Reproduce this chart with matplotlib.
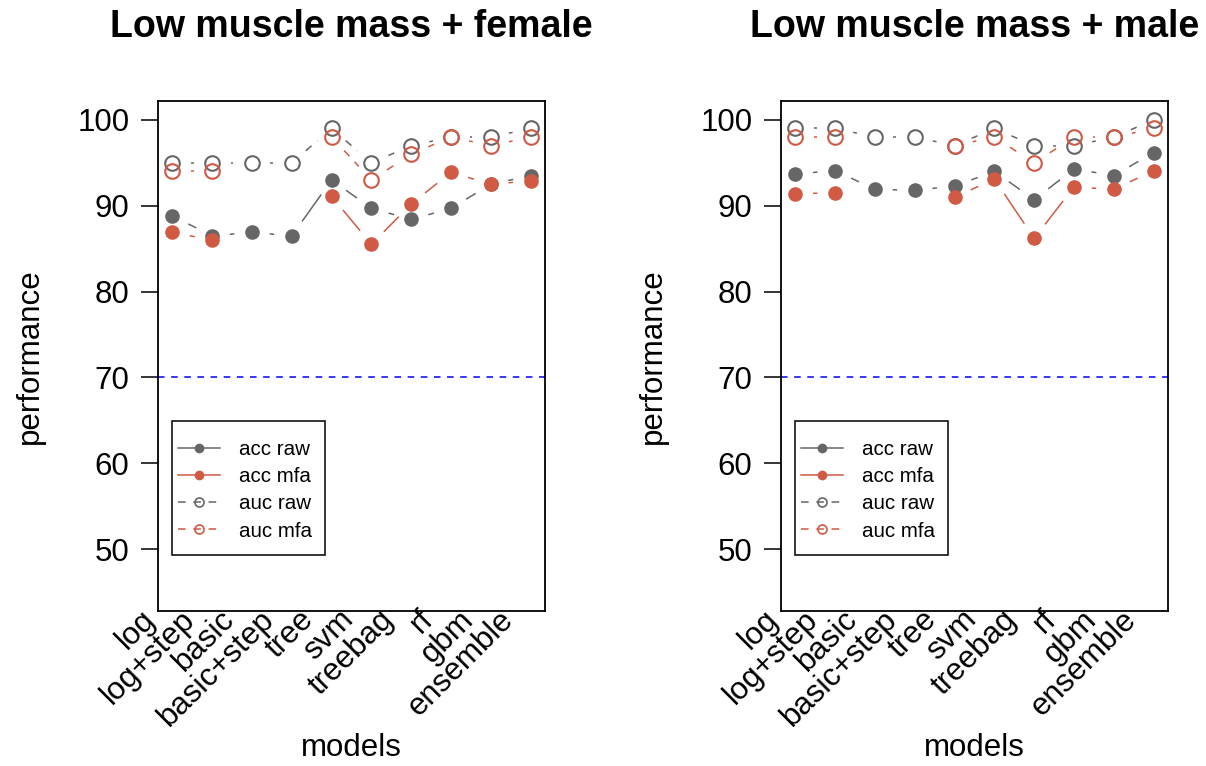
import numpy as np
import matplotlib
matplotlib.use("Agg")
import matplotlib.pyplot as plt
from matplotlib.lines import Line2D
from matplotlib.patches import Rectangle

plt.rcParams['font.family'] = ['Liberation Sans', 'DejaVu Sans']

models = ['log', 'log+step', 'basic', 'basic+step', 'tree', 'svm',
          'treebag', 'rf', 'gbm', 'ensemble']
nan = np.nan

# female
f_acc_raw = [88.8, 86.5, 86.9, 86.5, 93.0, 89.7, 88.4, 89.7, 92.5, 93.5]
f_acc_mfa = [86.9, 86.0, nan, nan, 91.1, 85.5, 90.2, 93.9, 92.5, 92.9]
f_auc_raw = [95, 95, 95, 95, 99, 95, 97, 98, 98, 99]
f_auc_mfa = [94, 94, nan, nan, 98, 93, 96, 98, 97, 98]

# male
m_acc_raw = [93.7, 94.1, 91.9, 91.8, 92.3, 94.0, 90.7, 94.3, 93.5, 96.2]
m_acc_mfa = [91.4, 91.5, nan, nan, 91.0, 93.1, 86.2, 92.2, 91.9, 94.1]
m_auc_raw = [99, 99, 98, 98, 97, 99, 97, 97, 98, 100]
m_auc_mfa = [98, 98, nan, nan, 97, 98, 95, 98, 98, 99]

threshold = 70
yticks = [50, 60, 70, 80, 90, 100]

GRAY = '#666666'
RED = '#D05A44'
GAP = 18.5  # pixels left open around points (like R type="b")
FS = 22.5


def type_b(ax, x, y, color, ls, filled):
    x = np.asarray(x, float)
    y = np.asarray(y, float)
    pts = ax.transData.transform(np.column_stack([x, y]))
    inv = ax.transData.inverted()
    for i in range(len(x) - 1):
        if np.isnan(y[i]) or np.isnan(y[i + 1]):
            continue
        d = pts[i + 1] - pts[i]
        L = np.hypot(*d)
        if L <= 2 * GAP:
            continue
        u = d / L
        a = inv.transform(pts[i] + u * GAP)
        b = inv.transform(pts[i + 1] - u * GAP)
        ax.plot([a[0], b[0]], [a[1], b[1]], color=color, lw=1.1,
                linestyle=ls, dash_capstyle='butt')
    if filled:
        ax.plot(x, y, linestyle='none', marker='o', ms=10.5,
                mfc=color, mec=color, mew=0)
    else:
        ax.plot(x, y, linestyle='none', marker='o', ms=10.5,
                mfc='none', mec=color, mew=1.5)


fig = plt.figure(figsize=(12.06, 7.66), dpi=100)
W, H = 1206, 766
AW, AH = 387, 510

panels = [
    (158, 'Low muscle mass + female', f_acc_raw, f_acc_mfa, f_auc_raw, f_auc_mfa),
    (781, 'Low muscle mass + male', m_acc_raw, m_acc_mfa, m_auc_raw, m_auc_mfa),
]
dash = (0, (5, 5))

for left, title, acc_raw, acc_mfa, auc_raw, auc_mfa in panels:
    ax = fig.add_axes([left / W, 1 - 611 / H, AW / W, AH / H])
    x = np.arange(1, len(models) + 1)
    ax.set_xlim(1 - 0.36, 10 + 0.36)
    ax.set_ylim(42.8, 102.2)

    ax.axhline(threshold, color='blue', lw=1.1, linestyle=(0, (4.3, 4.3)))

    type_b(ax, x, acc_raw, GRAY, '-', True)
    type_b(ax, x, acc_mfa, RED, '-', True)
    type_b(ax, x, auc_raw, GRAY, dash, False)
    type_b(ax, x, auc_mfa, RED, dash, False)

    ax.set_yticks(yticks)
    ax.set_yticklabels([str(t) for t in yticks], fontsize=FS)
    ax.tick_params(axis='y', direction='out', length=12.5, width=1.1, pad=8)
    ax.set_xticks([])
    for s in ax.spines.values():
        s.set_linewidth(1.3)

    for xi, lab in zip(x, models):
        ax.annotate(lab, xy=(xi, 0), xycoords=('data', 'axes fraction'),
                    xytext=(-22, -4), textcoords='offset pixels',
                    rotation=45, rotation_mode='anchor', ha='right',
                    va='center', fontsize=FS, annotation_clip=False)

    ax.set_title(title, fontsize=27, fontweight='bold', pad=46)
    ax.set_ylabel('performance', fontsize=FS, labelpad=23)
    ax.text(0.5, -0.268, 'models', transform=ax.transAxes, ha='center',
            va='center', fontsize=FS)

    # legend frame drawn separately so the handle lines can start near its edge
    ax.add_patch(Rectangle((14 / AW, 1 - (555 - 101) / AH), 153 / AW, 134 / AH,
                           transform=ax.transAxes, fill=False,
                           edgecolor='black', lw=1.1, zorder=5))
    handles = [
        Line2D([], [], color=GRAY, lw=1.1, marker='o', ms=7, mfc=GRAY, mew=0),
        Line2D([], [], color=RED, lw=1.1, marker='o', ms=7, mfc=RED, mew=0),
        Line2D([], [], color=GRAY, lw=1.1, ls=dash, marker='o', ms=6.5,
               mfc='none', mec=GRAY, mew=1.2),
        Line2D([], [], color=RED, lw=1.1, ls=dash, marker='o', ms=6.5,
               mfc='none', mec=RED, mew=1.2),
    ]
    ax.legend(handles, ['acc raw', 'acc mfa', 'auc raw', 'auc mfa'],
              loc='upper left',
              bbox_to_anchor=((178 - 158) / AW, 1 - (440 - 101) / AH),
              borderaxespad=0, fontsize=14.8, frameon=False,
              handlelength=2.03, handletextpad=0.93, borderpad=0,
              labelspacing=0.4, numpoints=1)

fig.savefig('out.png', dpi=100)
